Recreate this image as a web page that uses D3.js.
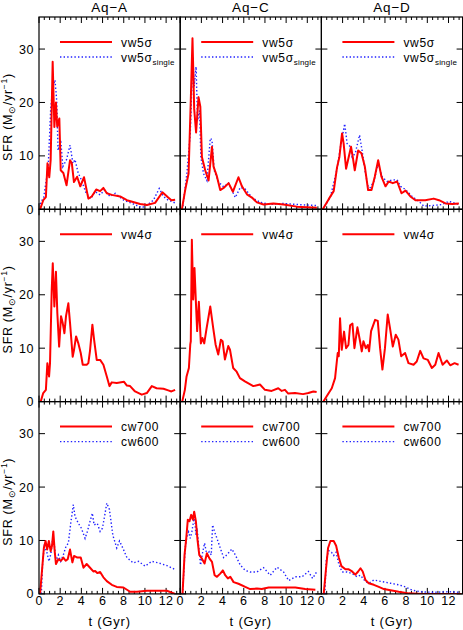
<!DOCTYPE html>
<html>
<head>
<meta charset="utf-8">
<script src="https://d3js.org/d3.v7.min.js"></script>
<style>
  body { margin: 0; background: #fff; }
  svg text { font-family: "Liberation Sans", Arial, sans-serif; fill: #000; }
</style>
</head>
<body>
<svg id="chart" width="463" height="630"></svg>
<script>
// ---- data: [t (Gyr), SFR] ----
var haloNames = ["Aq\u2212A", "Aq\u2212C", "Aq\u2212D"];
var xTicks = [0, 2, 4, 6, 8, 10, 12];
var yTicks = [0, 10, 20, 30];

var aqA_vw5 = [[0.1,0],[0.4,1.7],[0.65,2.3],[0.8,8.6],[0.97,6],[1.1,9.2],[1.29,27.6],[1.45,15.4],[1.6,20],[1.72,15.5],[1.92,17],[2.05,7.3],[2.3,6.8],[2.6,4.5],[2.93,9.2],[3.1,8.6],[3.3,5.1],[3.6,6.1],[3.9,4.3],[4.25,6],[4.66,2],[4.98,2.4],[5.4,3.7],[5.77,3.4],[6.08,4],[6.4,3],[6.87,2.7],[7.66,2.4],[8.3,1.7],[9.55,1],[10.2,0.8],[10.96,1.2],[11.65,3.2],[12.2,2.2],[12.5,1.7],[12.85,1.8]];
var aqA_vw5single = [[0.1,1],[0.45,2.3],[0.87,8],[1.1,18.6],[1.3,23],[1.51,24.2],[1.67,20.4],[1.8,11],[2.05,13],[2.25,8],[2.6,9.3],[2.93,12],[3.2,8.6],[3.4,9.3],[3.7,6.8],[4.0,5.5],[4.45,3],[4.9,2],[5.3,3.3],[5.77,2.7],[6.2,3.6],[6.7,2.4],[7.2,3],[8.0,1.7],[8.9,1],[9.7,0.3],[10.2,0.8],[10.8,1.7],[11.35,3.9],[11.75,2.4],[12.2,1.7],[12.85,1.2]];
var aqC_vw5 = [[0.16,0],[0.47,3.6],[0.79,6.7],[1.0,20.4],[1.16,32],[1.32,18.8],[1.5,14.4],[1.73,21],[1.9,19.2],[2.05,9.8],[2.36,7.3],[2.68,5.4],[3.0,11.7],[3.15,8],[3.46,6.2],[3.78,3.6],[4.1,4],[4.57,4.9],[4.98,3.3],[5.5,6],[5.83,4.3],[6.3,2.8],[6.77,2.2],[7.24,1.3],[7.87,0.9],[8.8,1.1],[9.76,0.9],[11,0.5],[11.97,0.4],[12.9,0.3]];
var aqC_vw5single = [[0.25,0.6],[0.63,6.7],[0.95,14.2],[1.1,23],[1.2,28.6],[1.32,23],[1.5,26.7],[1.64,16.6],[1.83,18.5],[1.95,9.8],[2.2,6.7],[2.52,5.4],[2.84,13.3],[3.0,13],[3.21,7.3],[3.62,5.1],[4.1,4.2],[4.57,4.9],[5.2,2.2],[5.67,4.1],[6.14,3.8],[6.77,2.2],[7.56,1.3],[8.5,0.9],[9.76,1.1],[11,0.9],[12.9,0.7]];
var aqD_vw5 = [[0.13,0],[0.69,1.9],[1.16,3.4],[1.48,7.9],[1.7,9.8],[1.95,14.2],[2.1,12.3],[2.33,7.6],[2.58,9.8],[2.8,11.7],[2.96,9.8],[3.15,7.3],[3.47,11],[3.78,10.5],[4.1,8],[4.41,3.6],[4.73,3.6],[5.04,6.1],[5.36,9.2],[5.67,6.1],[6.05,4.3],[6.36,5.2],[6.74,4.9],[7.15,5.2],[7.56,3],[7.94,3.5],[8.4,2.4],[8.88,1.7],[9.8,1.7],[10.6,2],[11.1,1.7],[11.72,1.1],[12.35,1],[12.98,1.1]];
var aqD_vw5single = [[0.32,0.6],[0.85,2.3],[1.48,7.6],[1.8,11.7],[2.2,16],[2.43,12.3],[2.74,11.7],[2.9,9.8],[3.2,10.5],[3.6,13.9],[3.84,11],[4.16,6.7],[4.47,3.6],[4.95,5.2],[5.36,8.6],[5.73,6.1],[6.2,5.2],[6.68,5.5],[7.15,5.5],[7.47,4.3],[7.94,3.7],[8.57,2.4],[9.2,1.5],[9.67,0.6],[10.45,0.7],[11.4,0.9],[12.04,1.5],[12.98,0.9]];

var aqA_vw4 = [[0.16,0],[0.4,1.6],[0.65,2.2],[0.79,7.2],[0.95,4.7],[1.04,7.2],[1.2,20.9],[1.3,25.9],[1.45,17.8],[1.6,24.3],[1.73,16.6],[1.9,10.3],[2.08,16],[2.24,14.7],[2.4,12.8],[2.55,16],[2.77,18.4],[2.93,14.7],[3.18,8.4],[3.3,9.6],[3.5,12.2],[3.7,11],[3.94,9.1],[4.13,6.9],[4.5,6.9],[4.66,7.2],[4.82,9.6],[5.04,14.4],[5.2,11.6],[5.45,7.8],[5.77,7.8],[6.08,6.9],[6.4,4.7],[6.65,2.9],[6.87,3.6],[7.34,3.5],[8.03,3.7],[8.3,3],[8.6,2.9],[9.07,1.9],[9.7,1.3],[10.18,1.6],[10.65,2.9],[11.1,2.5],[11.75,2.4],[12.2,2.1],[12.5,1.9],[12.85,2.2]];
var aqC_vw4 = [[0.19,0],[0.44,2.2],[0.6,4.7],[0.82,6.3],[0.95,10.7],[1.0,11.3],[1.1,30.3],[1.23,19.1],[1.35,25],[1.48,18.7],[1.6,13.2],[1.76,18.7],[1.95,10.9],[2.1,11.9],[2.27,10.9],[2.49,13.7],[2.84,17.8],[3.12,13.7],[3.34,10.7],[3.59,8.8],[3.84,11.6],[4.0,11.3],[4.22,7.9],[4.54,10.4],[4.7,9.7],[5.0,6.3],[5.33,5.6],[5.64,4.4],[6.11,3.8],[6.9,2.9],[7.53,3.2],[8.0,2.2],[8.63,2.0],[9.26,2.5],[9.58,2.0],[9.89,2.2],[10.2,1.5],[10.84,1.6],[11.6,1.4],[12.1,1.6],[12.57,1.9],[12.88,1.8]];
var aqD_vw4 = [[0.19,0],[0.5,1],[0.98,2.5],[1.29,4.4],[1.54,9.1],[1.64,8.5],[1.76,15.6],[1.92,9.7],[2.14,13.1],[2.33,10],[2.55,10.6],[2.71,14.3],[2.93,14.6],[3.12,10],[3.4,13.9],[3.65,11.3],[3.81,9.4],[3.97,11.3],[4.19,10],[4.38,10.6],[4.5,9.4],[4.69,13.2],[5.07,15.3],[5.32,15.1],[5.54,10],[5.76,6],[6.0,10],[6.26,16.3],[6.48,13.7],[6.74,10.3],[7.02,12.5],[7.27,11.6],[7.53,8.5],[7.9,9.1],[8.22,7.2],[8.7,6.9],[9.0,7.5],[9.33,9.5],[9.64,8.1],[10.05,7.8],[10.43,6.3],[10.75,6.9],[11.06,9.1],[11.44,6.9],[11.85,7.7],[12.16,6.8],[12.57,7.2],[12.95,6.9]];

var aqA_cw700 = [[0.1,0],[0.3,4.8],[0.46,8.6],[0.62,9.9],[0.77,8.3],[0.93,9.9],[1.1,8],[1.23,9.0],[1.35,11.7],[1.48,8],[1.6,5.6],[1.83,6.5],[2.08,6.2],[2.3,6.8],[2.52,6.2],[2.71,6.5],[2.93,8.3],[3.15,5.9],[3.31,7.1],[3.62,6.8],[3.94,6.8],[4.2,4.9],[4.5,5.6],[4.82,4.9],[5.13,4.2],[5.3,4.3],[5.5,3.9],[5.77,4.1],[6.08,3.1],[6.4,2.4],[6.87,1.7],[7.34,1.3],[7.97,1.2],[8.6,0.4],[9.24,0.4],[10.2,0.6],[11.1,0.6],[12.07,0.6],[12.85,0]];
var aqA_cw600 = [[0.22,0],[0.35,6.1],[0.5,8.9],[0.72,8],[0.94,6.1],[1.13,7.6],[1.29,10.3],[1.45,9.1],[1.6,6.1],[1.83,7.3],[2.05,6.1],[2.3,7.3],[2.55,8.9],[2.77,9.5],[3.02,13.6],[3.24,16.7],[3.4,14.5],[3.72,13.2],[4.0,12.3],[4.35,10.4],[4.57,11.7],[4.82,13.6],[5.04,15.1],[5.2,12.9],[5.5,13.2],[5.77,11.7],[5.99,12.3],[6.24,15.1],[6.4,17],[6.65,15.8],[6.97,11],[7.34,8.6],[7.6,9.9],[7.91,8.6],[8.3,6.8],[8.9,5.8],[9.39,6.1],[10.02,5.2],[10.65,6.1],[11.28,5.8],[12.07,5.3],[12.92,4.5]];
var aqC_cw700 = [[0.22,0],[0.41,7.3],[0.57,10.4],[0.72,13.9],[0.88,13.6],[1.04,14.8],[1.2,13.9],[1.32,15.4],[1.48,13.6],[1.64,10],[1.8,7.3],[2.05,6.6],[2.3,5.7],[2.52,7.6],[2.77,6.6],[3.0,6.0],[3.25,3.5],[3.47,3.2],[3.78,3.8],[4.03,4.4],[4.25,3.5],[4.5,2.9],[4.73,3.2],[5.04,2.2],[5.5,1.9],[6.14,1.3],[6.6,0.9],[7.24,1.0],[7.7,0.9],[8.35,1.2],[8.98,1.2],[9.92,1.2],[10.87,1.2],[11.8,0.9],[12.76,0.8]];
var aqC_cw600 = [[0.22,0],[0.47,8.6],[0.63,10.7],[0.79,11.6],[0.95,10.4],[1.1,11.6],[1.26,13.6],[1.35,14.8],[1.48,11],[1.6,12.3],[1.73,9.2],[1.92,5.4],[2.1,7.6],[2.3,9.5],[2.52,7.3],[2.74,7.9],[2.93,7.3],[3.06,12.9],[3.25,11.6],[3.47,10.4],[3.78,8.6],[4.1,6.8],[4.4,7.3],[4.88,8.4],[5.2,7.3],[5.67,5.4],[6.14,4.4],[6.6,4.1],[7.24,4.1],[7.87,4.9],[8.5,3.5],[9.14,5],[9.76,4.1],[10.24,2.5],[10.87,3.2],[11.5,3.2],[12.1,4.2],[12.5,2.9],[12.9,4.2]];
var aqD_cw700 = [[0.22,0],[0.44,4.8],[0.63,8.6],[0.85,9.9],[1.16,9.9],[1.39,9],[1.64,6.8],[1.89,5.2],[2.27,4.6],[2.58,4.6],[2.9,4.2],[3.2,3.6],[3.47,4.2],[3.69,4.8],[3.9,4.2],[4.16,2.6],[4.47,2.0],[4.95,1.7],[5.42,1.3],[5.9,0.9],[6.52,0.7],[7.3,0.4],[8.25,0.1],[9.5,0],[13.2,0]];
var aqD_cw600 = [[0.32,0],[0.47,6.6],[0.69,8.1],[0.95,7.8],[1.16,7.2],[1.39,7.8],[1.64,5.6],[1.95,4.1],[2.43,4.1],[2.9,3.8],[3.37,3.2],[3.69,3.5],[4.16,2.3],[4.47,2.0],[4.95,2.6],[5.73,2.3],[6.52,2.0],[7.3,1.7],[7.94,1.3],[8.57,0.7],[9.36,0.4],[10.46,0.3],[12.04,0.4],[13.1,0.3]];

// rows: legend labels, solid series per halo, dotted series per halo
var rows = [
  { solid: "vw5\u03c3", dotted: "vw5\u03c3", sub: "single",
    s: [aqA_vw5, aqC_vw5, aqD_vw5], d: [aqA_vw5single, aqC_vw5single, aqD_vw5single] },
  { solid: "vw4\u03c3", dotted: null,
    s: [aqA_vw4, aqC_vw4, aqD_vw4], d: null },
  { solid: "cw700", dotted: "cw600", sub: null,
    s: [aqA_cw700, aqC_cw700, aqD_cw700], d: [aqA_cw600, aqC_cw600, aqD_cw600] }
];

var padL = 39, padT = 17, pw = 141.2, ph = 192.3;
var red = "#ff0000", blue = "#2020ff";

var svg = d3.select("#chart");

var x = d3.scaleLinear().domain([0, 13.33]).range([0, pw]);
var y = d3.scaleLinear().domain([0, 36]).range([ph, 0]);

var line = d3.line().x(function(d){ return x(d[0]); }).y(function(d){ return y(d[1]); });

svg.append("defs").append("clipPath").attr("id", "clip")
   .append("rect").attr("width", pw).attr("height", ph);

rows.forEach(function(r, ri){
  for (var ci = 0; ci < 3; ci++) {
    var g = svg.append("g")
      .attr("transform", "translate(" + (padL + ci * pw) + "," + (padT + ri * ph) + ")");

    // ticks inward on all four sides
    var xMinor = d3.range(0, 13.3, 0.5);
    var tk = g.append("g").attr("stroke", "#000").attr("stroke-width", 1);
    xMinor.forEach(function(t){
      var len = (t % 2 === 0) ? 6 : 3;
      tk.append("line").attr("x1", x(t)).attr("x2", x(t)).attr("y1", ph).attr("y2", ph - len);
      tk.append("line").attr("x1", x(t)).attr("x2", x(t)).attr("y1", 0).attr("y2", len);
    });
    yTicks.forEach(function(v){
      tk.append("line").attr("x1", 0).attr("x2", 6).attr("y1", y(v)).attr("y2", y(v));
      tk.append("line").attr("x1", pw).attr("x2", pw - 6).attr("y1", y(v)).attr("y2", y(v));
    });

    var plot = g.append("g").attr("clip-path", "url(#clip)");
    if (r.d) {
      plot.append("path").datum(r.d[ci]).attr("d", line)
        .attr("fill", "none").attr("stroke", blue).attr("stroke-width", 1.4)
        .attr("stroke-dasharray", "1.4,2.2");
    }
    plot.append("path").datum(r.s[ci]).attr("d", line)
      .attr("fill", "none").attr("stroke", red).attr("stroke-width", 2)
      .attr("stroke-linejoin", "round");

    g.append("rect").attr("width", pw).attr("height", ph)
      .attr("fill", "none").attr("stroke", "#000").attr("stroke-width", 1.2);

    // legend
    var lg = g.append("g").attr("transform", "translate(21,25)");
    lg.append("line").attr("x1", 0).attr("x2", 52).attr("y1", 0).attr("y2", 0)
      .attr("stroke", red).attr("stroke-width", 2);
    lg.append("text").attr("x", 61).attr("y", 4.5).attr("font-size", "12px")
      .attr("letter-spacing", "0.7px").text(r.solid);
    if (r.dotted) {
      lg.append("line").attr("x1", 0).attr("x2", 52).attr("y1", 15).attr("y2", 15)
        .attr("stroke", blue).attr("stroke-width", 1.4).attr("stroke-dasharray", "1.4,2.2");
      var t2 = lg.append("text").attr("x", 61).attr("y", 19.5).attr("font-size", "12px")
        .attr("letter-spacing", "0.7px").text(r.dotted);
      if (r.sub) t2.append("tspan").attr("font-size", "8px").attr("letter-spacing", "0.2px")
        .attr("dy", 3).text(r.sub);
    }

    // y tick labels on left column
    if (ci === 0) {
      g.selectAll(".ylab").data(yTicks).enter().append("text")
        .attr("x", -5).attr("y", function(d){ return y(d) + 4.5; })
        .attr("text-anchor", "end").attr("font-size", "12.5px").attr("letter-spacing", "0.5px")
        .text(function(d){ return d; });
      var yl = g.append("text")
        .attr("transform", "translate(-27.5," + (ph / 2 + 4) + ") rotate(-90)")
        .attr("text-anchor", "middle").attr("font-size", "12.5px").attr("letter-spacing", "0.7px");
      yl.append("tspan").text("SFR (M");
      yl.append("tspan").attr("font-size", "9px").attr("dy", 3).text("\u2299");
      yl.append("tspan").attr("dy", -3).text("/yr");
      yl.append("tspan").attr("font-size", "8.5px").attr("dy", -5).text("\u22121");
      yl.append("tspan").attr("dy", 5).text(")");
    }

    // titles on top row
    if (ri === 0) {
      g.append("text").attr("x", pw / 2).attr("y", -5.5).attr("text-anchor", "middle")
        .attr("font-size", "13.5px").attr("letter-spacing", "0.8px").text(haloNames[ci]);
    }

    // x tick labels on bottom row
    if (ri === 2) {
      g.selectAll(".xlab").data(xTicks).enter().append("text")
        .attr("x", function(d){ return x(d); }).attr("y", ph + 11.5)
        .attr("text-anchor", "middle").attr("font-size", "12.5px").attr("letter-spacing", "0.3px")
        .text(function(d){ return d; });
      g.append("text").attr("x", pw / 2).attr("y", ph + 32).attr("text-anchor", "middle")
        .attr("font-size", "13px").attr("letter-spacing", "0.8px").text("t (Gyr)");
    }
  }
});
</script>
</body>
</html>
